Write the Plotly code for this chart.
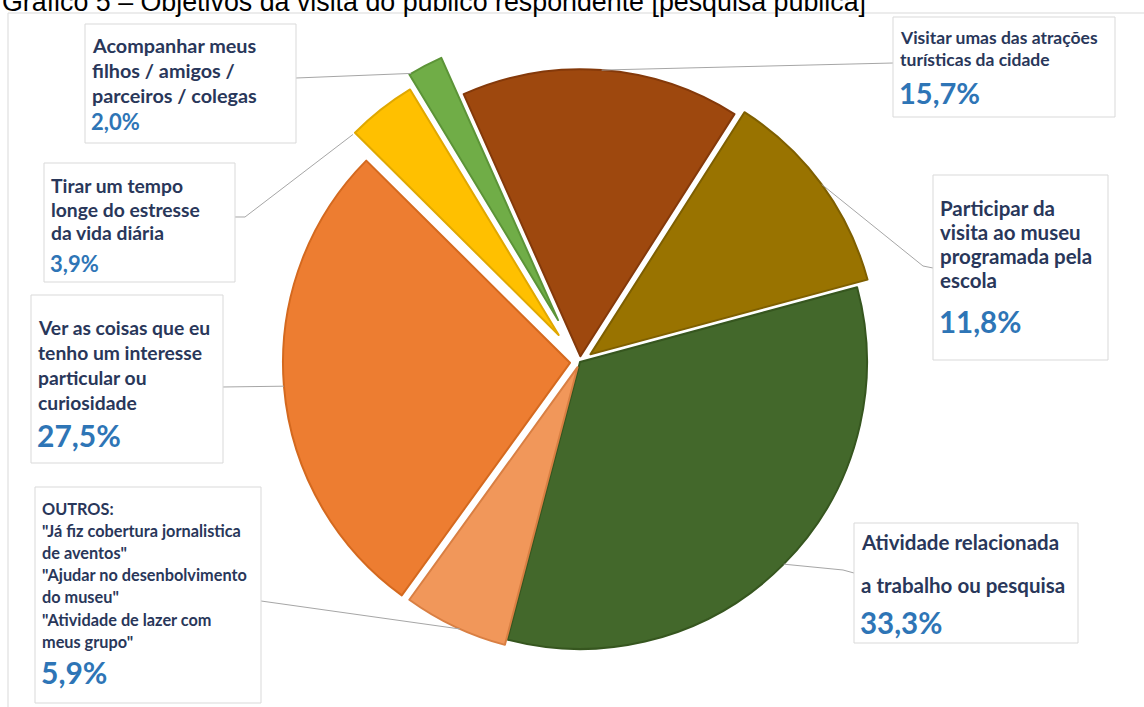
import math
import plotly.graph_objects as go

# ---- data -------------------------------------------------------------
categories = [
    "Visitar umas das atrações\nturísticas da cidade",
    "Participar da\nvisita ao museu\nprogramada pela\nescola",
    "Atividade relacionada\na trabalho ou pesquisa",
    "OUTROS:\n\"Já fiz cobertura jornalistica\nde aventos\"\n\"Ajudar no desenbolvimento\ndo museu\"\n\"Atividade de lazer com\nmeus grupo\"",
    "Ver as coisas que eu\ntenho um interesse\nparticular ou\ncuriosidade",
    "Tirar um tempo\nlonge do estresse\nda vida diária",
    "Acompanhar meus\nfilhos / amigos /\nparceiros / colegas",
]
values = [15.7, 11.8, 33.3, 5.9, 27.5, 3.9, 2.0]
title_text = "Gráfico 5 – Objetivos da visita do público respondente [pesquisa pública]"

# ---- style ------------------------------------------------------------
W, H = 1144, 707
colors = ["#9E480E", "#997300", "#43682B", "#F1975A", "#ED7D31", "#FFC000", "#70AD47"]
edge_colors = ["#84390A", "#7E5F00", "#36561F", "#D97F43", "#D4691F", "#E0A800", "#5C9437"]
pulls = [0.02, 0.045, 0.0, 0.02, 0.035, 0.12, 0.165]
rotation = -24.0
CX, CY, R = 580, 362, 287          # pie centre and radius in pixels

TEXT_COLOR = "#29375A"
PCT_COLOR = "#2E75B6"
FONT = "Lato"

# label boxes: left, top, right, bottom, text size, line centres, pct centre, pct size
boxes = [
    dict(box=(893, 17, 1115, 117), fs=17.5, lines_y=(37, 22.5), pct_y=92, pct_fs=29,
         link=(893, 63), bend=None, t=0.5),
    dict(box=(933, 175, 1108, 360), fs=20.5, lines_y=(208, 24), pct_y=321, pct_fs=29.5,
         link=(933, 268), bend=(923, 266), t=0.5),
    dict(box=(854, 523, 1078, 643), fs=20.5, lines_y=(542, 43), pct_y=622, pct_fs=29.5,
         link=(854, 573), bend=(843, 570), t=0.5),
    dict(box=(35, 487, 261, 703), fs=16.3, lines_y=(508, 22.2), pct_y=672, pct_fs=30,
         link=(261, 601), bend=None, t=0.45),
    dict(box=(31, 295, 223, 463), fs=19.3, lines_y=(327, 25.3), pct_y=435, pct_fs=30,
         link=(223, 387), bend=None, t=0.5),
    dict(box=(44, 163, 235, 282), fs=19.3, lines_y=(185, 24), pct_y=263, pct_fs=22,
         link=(235, 217), bend=(245, 217), t=0.02),
    dict(box=(85, 24, 296, 143), fs=19.8, lines_y=(45, 25), pct_y=122, pct_fs=22,
         link=(296, 78), bend=None, t=0.12),
]


def px(x):
    return x / W


def py(y):
    return 1 - y / H


# pie domain sized so that the radius comes out as R
half = R * (1 + max(pulls))
domain_x = [px(CX - half), px(CX + half)]
domain_y = [py(CY + half), py(CY - half)]

fig = go.Figure(go.Pie(
    labels=[c.split("\n")[0] for c in categories],
    values=values,
    sort=False,
    direction="clockwise",
    rotation=rotation,
    pull=pulls,
    marker=dict(colors=colors, line=dict(color=edge_colors, width=2)),
    textinfo="none",
    hoverinfo="label+percent",
    showlegend=False,
    domain=dict(x=domain_x, y=domain_y),
))

shapes = []
annotations = []

# outer frame of the chart area
shapes.append(dict(type="rect", xref="paper", yref="paper",
                   x0=px(8), x1=px(1150), y0=py(720), y1=py(13),
                   line=dict(color="#D9D9D9", width=1), layer="below"))

total = sum(values)
cum = 0.0
for i, (cat, v) in enumerate(zip(categories, values)):
    b = boxes[i]
    span = 360.0 * v / total
    a0 = rotation + 360.0 * cum / total
    cum += v
    ang = math.radians(a0 + b["t"] * span)
    rr = R * (1 + pulls[i])
    ax, ay = CX + rr * math.sin(ang), CY - rr * math.cos(ang)

    # leader line from slice to box
    pts = [(ax, ay)]
    if b["bend"]:
        pts.append(b["bend"])
    pts.append(b["link"])
    path = "M " + " L ".join(f"{px(x):.5f},{py(y):.5f}" for x, y in pts)
    shapes.append(dict(type="path", xref="paper", yref="paper", path=path,
                       line=dict(color="#A6A6A6", width=1)))

    # label box
    l, t, r_, btm = b["box"]
    shapes.append(dict(type="rect", xref="paper", yref="paper",
                       x0=px(l), x1=px(r_), y0=py(btm), y1=py(t),
                       line=dict(color="#D9D9D9", width=1), fillcolor="white"))

    y0, step = b["lines_y"]
    for k, line in enumerate(cat.split("\n")):
        annotations.append(dict(
            x=px(l + 5), y=py(y0 + k * step), xref="paper", yref="paper",
            xanchor="left", yanchor="middle", showarrow=False, text=f"<b>{line}</b>",
            font=dict(family=FONT, size=b["fs"], color=TEXT_COLOR)))
    pct = f"{v:.1f}".replace(".", ",") + "%"
    annotations.append(dict(
        x=px(l + 4), y=py(b["pct_y"]), xref="paper", yref="paper",
        xanchor="left", yanchor="middle", showarrow=False, text=f"<b>{pct}</b>",
        font=dict(family=FONT, size=b["pct_fs"], color=PCT_COLOR)))

# title, partly above the top edge
annotations.append(dict(
    x=0, y=py(2), xref="paper", yref="paper", xanchor="left", yanchor="middle",
    showarrow=False, text=title_text,
    font=dict(family="Liberation Sans, Arial", size=26.8, color="#000000")))

fig.update_layout(
    width=W, height=H,
    margin=dict(l=0, r=0, t=0, b=0),
    paper_bgcolor="white", plot_bgcolor="white",
    shapes=shapes, annotations=annotations,
)

fig.write_html("out.html")
